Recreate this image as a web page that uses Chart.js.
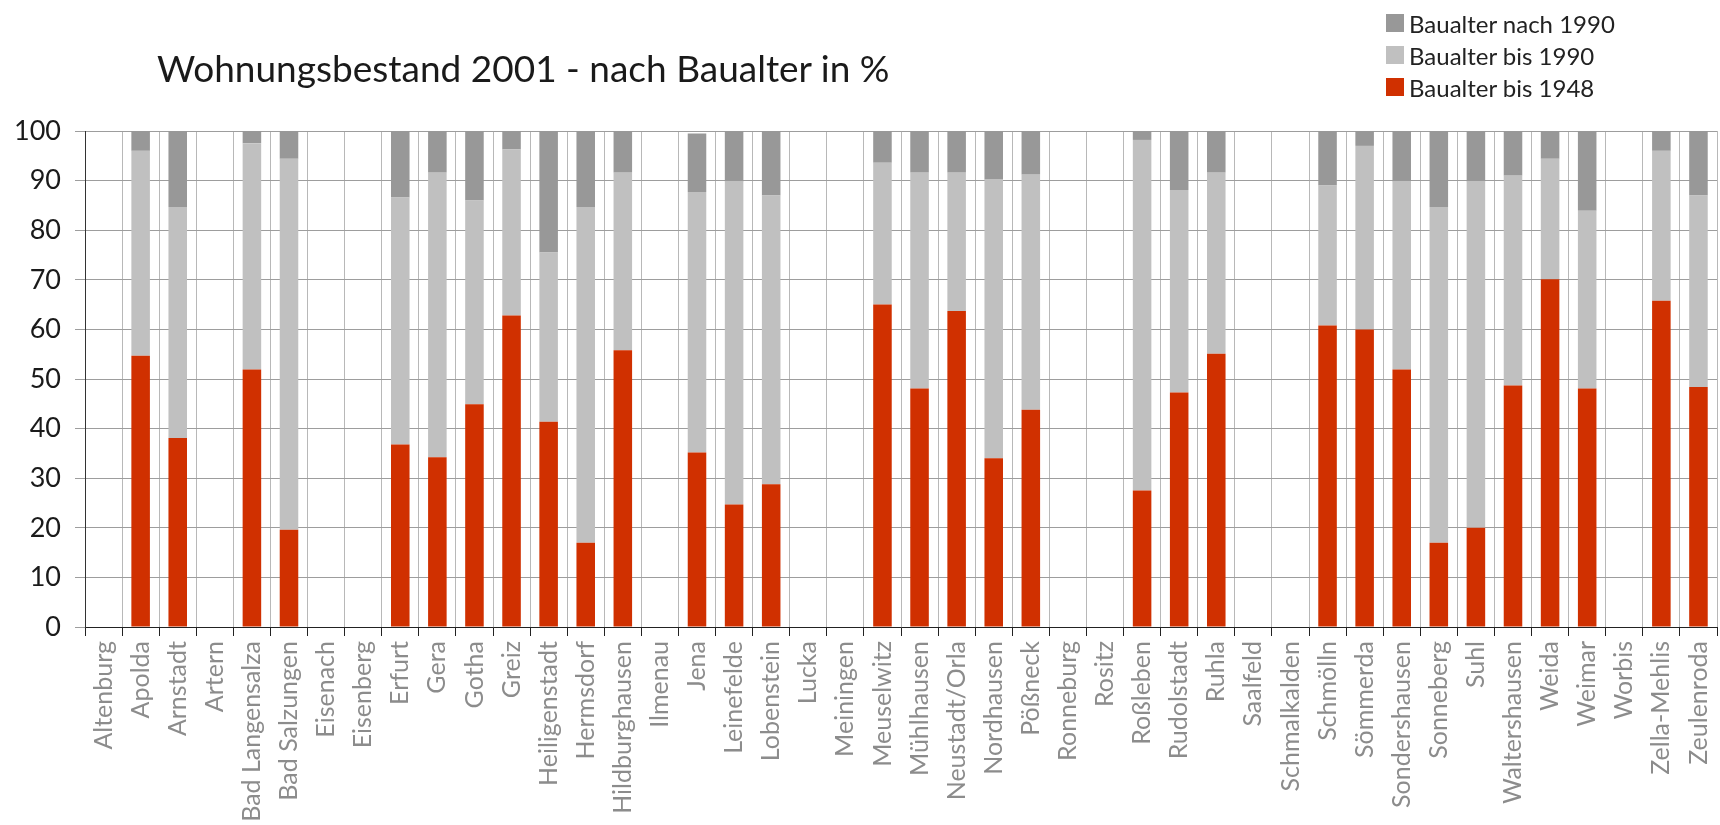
<!DOCTYPE html>
<html>
<head>
<meta charset="utf-8">
<script src="https://cdn.jsdelivr.net/npm/chart.js@4"></script>
<style>
  body { margin: 0; background: #fff; }
  #wrap { position: relative; width: 1720px; height: 825px; overflow: hidden; font-family: Lato, sans-serif; }
  #diagramm { position: absolute; left: 0; top: 0; }
  #titel { position: absolute; left: 157px; top: 45px; font-size: 37px; color: #1a1a1a; white-space: nowrap; }
  #legende { position: absolute; left: 1386px; top: 7px; font-size: 24px; color: #222; }
  .eintrag { height: 32px; display: flex; align-items: center; white-space: nowrap; }
  .kasten { width: 18px; height: 18px; margin-right: 5px; }
</style>
</head>
<body>
<div id="wrap">
  <canvas id="diagramm" width="1720" height="825"></canvas>
  <div id="titel">Wohnungsbestand 2001 - nach Baualter in %</div>
  <div id="legende"></div>
</div>
<script>
// Städte (x-Achse)
const staedte = [
  'Altenburg', 'Apolda', 'Arnstadt', 'Artern', 'Bad Langensalza', 'Bad Salzungen',
  'Eisenach', 'Eisenberg', 'Erfurt', 'Gera', 'Gotha', 'Greiz', 'Heiligenstadt',
  'Hermsdorf', 'Hildburghausen', 'Ilmenau', 'Jena', 'Leinefelde', 'Lobenstein',
  'Lucka', 'Meiningen', 'Meuselwitz', 'Mühlhausen', 'Neustadt/Orla', 'Nordhausen',
  'Pößneck', 'Ronneburg', 'Rositz', 'Roßleben', 'Rudolstadt', 'Ruhla', 'Saalfeld',
  'Schmalkalden', 'Schmölln', 'Sömmerda', 'Sondershausen', 'Sonneberg', 'Suhl',
  'Waltershausen', 'Weida', 'Weimar', 'Worbis', 'Zella-Mehlis', 'Zeulenroda'
];

// Anteile in % (null = keine Angabe)
const bis1948 = [
  null, 54.7, 38.1, null, 51.9, 19.6, null, null, 36.8, 34.2, 44.9, 62.8, 41.4,
  17.0, 55.8, null, 35.2, 24.7, 28.8, null, null, 65.0, 48.1, 63.7, 34.0,
  43.8, null, null, 27.5, 47.3, 55.1, null, null, 60.8, 60.0, 51.9, 17.0, 20.0,
  48.7, 70.1, 48.1, null, 65.8, 48.4
];
const bis1990 = [
  null, 41.3, 46.6, null, 45.6, 74.8, null, null, 49.8, 57.4, 41.1, 33.5, 34.1,
  67.7, 35.8, null, 52.5, 65.1, 58.2, null, null, 28.6, 43.5, 27.9, 56.2,
  47.4, null, null, 70.7, 40.8, 36.5, null, null, 28.2, 37.0, 37.9, 67.7, 69.8,
  42.3, 24.3, 35.8, null, 30.2, 38.6
];
const nach1990 = [
  null, 4.0, 15.3, null, 2.5, 5.6, null, null, 13.4, 8.4, 14.0, 3.7, 24.5,
  15.3, 8.4, null, 11.8, 10.2, 13.0, null, null, 6.4, 8.4, 8.4, 9.8,
  8.8, null, null, 1.8, 11.9, 8.4, null, null, 11.0, 3.0, 10.2, 15.3, 10.2,
  9.0, 5.6, 16.1, null, 4.0, 13.0
];

const yTicks = [0, 10, 20, 30, 40, 50, 60, 70, 80, 90, 100];

Chart.defaults.font.family = 'Lato';

const data = {
  labels: staedte,
  datasets: [
    { label: 'Baualter bis 1948', data: bis1948, backgroundColor: '#d03000' },
    { label: 'Baualter bis 1990', data: bis1990, backgroundColor: '#c0c0c0' },
    { label: 'Baualter nach 1990', data: nach1990, backgroundColor: '#989898' }
  ]
};
data.datasets.forEach(ds => {
  ds.barPercentage = 0.5;
  ds.categoryPercentage = 1;
});

const config = {
  type: 'bar',
  data: data,
  options: {
    responsive: false,
    animation: false,
    layout: { padding: { top: 131, right: 3, left: 0, bottom: 0 } },
    plugins: { legend: { display: false }, tooltip: { enabled: false } },
    scales: {
      x: {
        stacked: true,
        grid: { color: '#b8b8b8', tickColor: '#222', tickLength: 9, offset: true },
        border: { color: '#222' },
        ticks: {
          autoSkip: false, minRotation: 90, maxRotation: 90, padding: 5,
          color: '#8c8c8c', font: { size: 25 }
        },
        afterFit: s => { s.height = 198; s.paddingLeft = 0; s.paddingRight = 0; }
      },
      y: {
        stacked: true,
        min: 0, max: 100,
        afterBuildTicks: s => { s.ticks = yTicks.map(v => ({ value: v })); },
        grid: { color: '#9d9d9d', tickColor: '#9d9d9d', tickLength: 10 },
        border: { color: '#333' },
        ticks: { padding: 14, color: '#1a1a1a', font: { size: 27 } },
        afterFit: s => { s.width = 85; }
      }
    }
  }
};

const myChart = new Chart(document.getElementById('diagramm'), config);

// Legende aus den Datensätzen (oben: nach 1990)
const leg = document.getElementById('legende');
myChart.data.datasets.slice().reverse().forEach(ds => {
  const row = document.createElement('div');
  row.className = 'eintrag';
  const box = document.createElement('span');
  box.className = 'kasten';
  box.style.background = ds.backgroundColor;
  row.appendChild(box);
  row.appendChild(document.createTextNode(ds.label));
  leg.appendChild(row);
});
</script>
</body>
</html>
